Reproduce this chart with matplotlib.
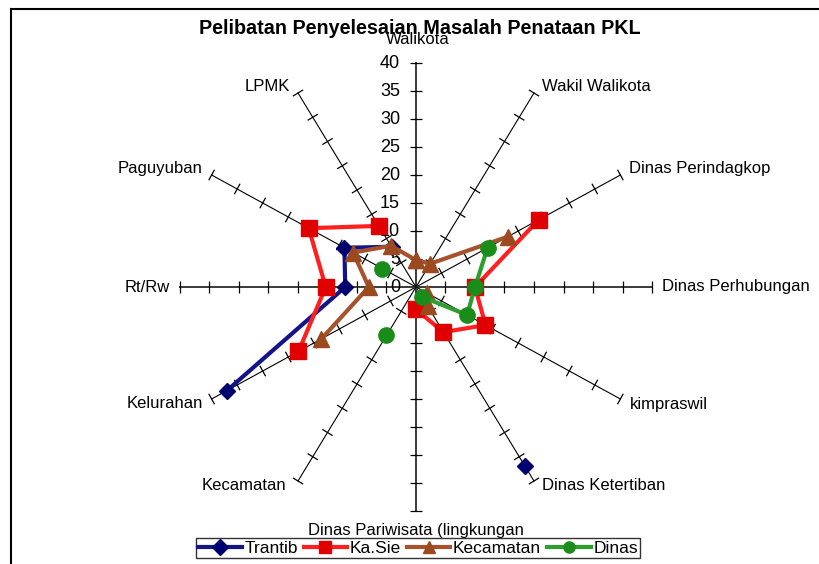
import numpy as np
import matplotlib
matplotlib.use('Agg')
import matplotlib.pyplot as plt
from matplotlib.collections import LineCollection
from matplotlib.lines import Line2D

plt.rcParams['font.family'] = ['Liberation Sans', 'DejaVu Sans']

# spokes, clockwise from the top
categories = ['Walikota', 'Wakil Walikota', 'Dinas Perindagkop', 'Dinas Perhubungan',
              'kimpraswil', 'Dinas Ketertiban', 'Dinas Pariwisata (lingkungan',
              'Kecamatan', 'Kelurahan', 'Rt/Rw', 'Paguyuban', 'LPMK']
nan = np.nan
trantib = [nan, nan, nan, nan, nan, 37, nan, nan, 37, 12, 14, 8.3]
kasie = [nan, nan, 24, 10, 13.6, 9.3, 4, nan, 23, 15.3, 21, 12.6]
kecamatan = [4.8, 4.8, 18, nan, 2.2, 4, nan, nan, 18.5, 8, 12.3, 8.5]
dinas = [nan, nan, 14, 10, 10, 2, nan, 10, nan, nan, 6.6, nan]
series_names = ['Trantib', 'Ka.Sie', 'Kecamatan', 'Dinas']
ticks = [0, 5, 10, 15, 20, 25, 30, 35, 40]
rmax = 40

# pixel scale of one unit along x and y, centre of the web in pixels
SX, SY = 5.9, 5.6
CX, CY = 416, 287
W, H = 820, 564

fig = plt.figure(figsize=(W / 100, H / 100), dpi=100)
ax = fig.add_axes([0, 0, 1, 1])
ax.set_xlim(-CX / SX, (W - CX) / SX)
ax.set_ylim(-(H - CY) / SY, CY / SY)
ax.axis('off')

n = len(categories)
ang = np.deg2rad(90 - 30 * np.arange(n))


def to_xy(vals):
    v = np.asarray(vals, dtype=float)
    return v * np.cos(ang), v * np.sin(ang)


# spokes
for k in range(n):
    lw = 1.4 if k % 3 == 0 else 0.8
    col = '#3a3a3a' if k % 3 == 0 else 'black'
    ax.plot([0, rmax * np.cos(ang[k])], [0, rmax * np.sin(ang[k])],
            color=col, lw=lw, zorder=2)

# cross ticks on every spoke
segs = []
half = 6.0
for k in range(n):
    ux, uy = np.cos(ang[k]) * SX, np.sin(ang[k]) * SY
    L = np.hypot(ux, uy)
    ux, uy = ux / L, uy / L
    px, py = -uy * half / SX, ux * half / SY
    for r in ticks[1:]:
        x0, y0 = r * np.cos(ang[k]), r * np.sin(ang[k])
        segs.append([(x0 - px, y0 - py), (x0 + px, y0 + py)])
ax.add_collection(LineCollection(segs, colors='black', linewidths=0.9, zorder=2))

# value labels along the top spoke
for t in ticks:
    ax.annotate(str(t), (0, t), xytext=(-16, -1), textcoords='offset pixels',
                ha='right', va='center', fontsize=13, zorder=3)

# spoke captions
cap_off = [(2, 23, 'center'), (8, 7, 'left'), (9, 6, 'left'), (10, 0, 'left'),
           (9, -5, 'left'), (8, -5, 'left'), (0, -19, 'center'), (-12, -5, 'right'),
           (-9, -4, 'right'), (-10, 0, 'right'), (-9, 6, 'right'), (-8, 7, 'right')]
for k, name in enumerate(categories):
    dx, dy, ha = cap_off[k]
    ax.annotate(name, (rmax * np.cos(ang[k]), rmax * np.sin(ang[k])),
                xytext=(dx, dy), textcoords='offset pixels',
                ha=ha, va='center', fontsize=12, zorder=3)

styles = [
    dict(color='#14148a', marker='D', ms=8.5, mfc='#000070', mec='#000070'),
    dict(color='#ff1f1f', marker='s', ms=11, mfc='#e00000', mec='#e00000'),
    dict(color='#a5522d', marker='^', ms=11.5, mfc='#9a4a1e', mec='#9a4a1e'),
    dict(color='#2e9e2e', marker='o', ms=11, mfc='#1a8c1a', mec='#1a8c1a'),
]
handles = []
for i, (vals, st) in enumerate(zip([trantib, kasie, kecamatan, dinas], styles)):
    x, y = to_xy(vals)
    # close the web; blanks (nan) leave gaps
    x = np.append(x, x[0])
    y = np.append(y, y[0])
    h, = ax.plot(x, y, lw=3, zorder=5 + i, label=series_names[i], **st)
    handles.append(h)

fig.text(420 / W, 1 - 29 / H, 'Pelibatan Penyelesaian Masalah Penataan PKL',
         ha='center', va='center', fontsize=14.2, fontweight='bold', zorder=10)

leg = fig.legend(handles=handles, loc='upper center', bbox_to_anchor=(418 / W, 1 - 538 / H),
                 ncol=4, fontsize=12.5, frameon=True, fancybox=False, edgecolor='black',
                 handlelength=2.5, handletextpad=0.15, columnspacing=0.35,
                 borderpad=0.15, borderaxespad=0)
leg.get_frame().set_linewidth(1.0)
for lh in leg.legend_handles:
    lh.set_markersize(8)
    lh.set_linewidth(3)

# chart area frame (left and top edges only)
fig.add_artist(Line2D([11 / W, 11 / W], [0, 1 - 9 / H], color='black', lw=1.5))
fig.add_artist(Line2D([11 / W, 1.02], [1 - 9 / H, 1 - 9 / H], color='black', lw=1.5))

fig.savefig('out.png', dpi=100)
